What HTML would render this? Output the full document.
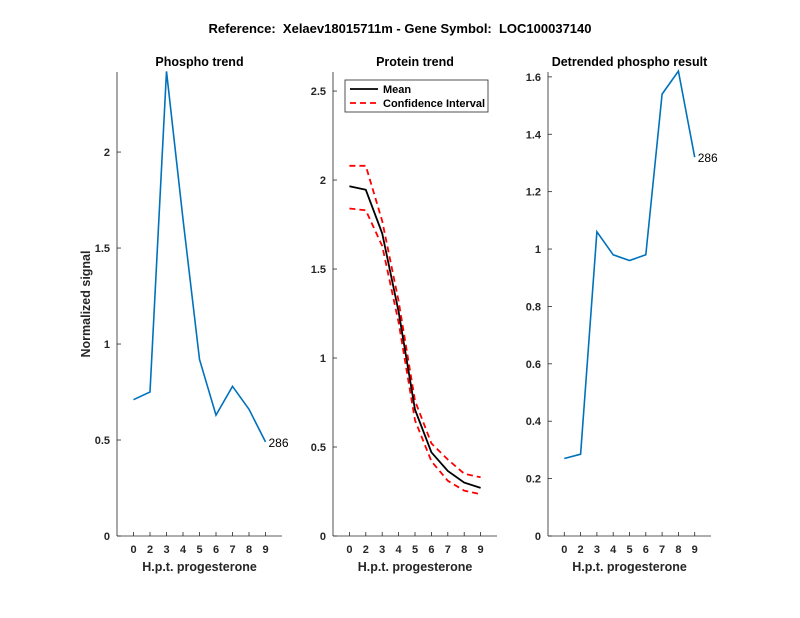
<!DOCTYPE html>
<html><head><meta charset="utf-8"><style>
body{margin:0;background:#fff;}
svg{display:block;font-family:"Liberation Sans",Arial,sans-serif;}
text{white-space:pre;}
</style></head><body>
<svg id="chart" width="800" height="618"></svg>
<script>
const xLabels = ["0","2","3","4","5","6","7","8","9"];
const phospho = [0.71,0.75,2.42,1.65,0.92,0.63,0.78,0.66,0.49];
const proteinMean = [1.965,1.945,1.70,1.26,0.71,0.47,0.365,0.30,0.27];
const proteinUpper = [2.08,2.08,1.77,1.32,0.76,0.52,0.43,0.35,0.33];
const proteinLower = [1.84,1.83,1.63,1.20,0.65,0.42,0.31,0.255,0.235];
const detrended = [0.27,0.285,1.06,0.98,0.96,0.98,1.54,1.62,1.32];
const ticks1 = [0,0.5,1,1.5,2];
const ticks2 = [0,0.5,1,1.5,2,2.5];
const ticks3 = [0,0.2,0.4,0.6,0.8,1,1.2,1.4,1.6];

const NS="http://www.w3.org/2000/svg";
const svg=document.getElementById('chart');
function mk(tag,attrs,parent){const e=document.createElementNS(NS,tag);for(const k in attrs)e.setAttribute(k,attrs[k]);(parent||svg).appendChild(e);return e;}

const title=mk('text',{x:400,y:33,'text-anchor':'middle','font-size':13,'font-weight':'bold',fill:'#000'});
title.textContent='Reference:  Xelaev18015711m - Gene Symbol:  LOC100037140';



function panel(name,x0,x1,ymax,ticks,ttl){
  const top=72,bot=536;
  const g=mk('g',{});
  
  
  const sx=i=>x0+(x1-x0)*(i+1)/10;
  const sy=v=>bot-(bot-top)*v/ymax;
  mk('line',{x1:x0,y1:top,x2:x0,y2:bot,stroke:'#262626','stroke-width':0.8},g);
  mk('line',{x1:x0,y1:bot,x2:x1,y2:bot,stroke:'#262626','stroke-width':0.8},g);
  ticks.forEach(t=>{
    mk('line',{x1:x0,y1:sy(t),x2:x0+4,y2:sy(t),stroke:'#262626','stroke-width':0.8},g);
    const tx=mk('text',{x:x0-7,y:sy(t)+4,'text-anchor':'end','font-size':11,'font-weight':'bold',fill:'#262626'},g);
    tx.textContent=String(t);
    
    
  });
  xLabels.forEach((l,i)=>{
    mk('line',{x1:sx(i),y1:bot,x2:sx(i),y2:bot-4,stroke:'#262626','stroke-width':0.8},g);
    const tx=mk('text',{x:sx(i),y:bot+17,'text-anchor':'middle','font-size':11,'font-weight':'bold',fill:'#262626'},g);
    tx.textContent=l;
    
    
  });
  const t=mk('text',{x:(x0+x1)/2,y:66,'text-anchor':'middle','font-size':12.5,'font-weight':'bold',fill:'#000'},g);
  t.textContent=ttl;
  
  
  const xl=mk('text',{x:(x0+x1)/2,y:571,'text-anchor':'middle','font-size':12.5,'font-weight':'bold',fill:'#262626'},g);
  xl.textContent='H.p.t. progesterone';
  
  
  return {g,sx,sy};
}
function line(p,vals,attrs,name){
  const pts=vals.map((v,i)=>p.sx(i).toFixed(1)+','+p.sy(v).toFixed(1)).join(' ');
  const pl=mk('polyline',Object.assign({points:pts,fill:'none'},attrs),p.g);
  
  
  return pl;
}
const p1=panel('phospho-panel',117,282,2.417,ticks1,'Phospho trend');
line(p1,phospho,{stroke:'#0072bd','stroke-width':1.6},'phospho-line');
const l1=mk('text',{x:p1.sx(8)+3,y:p1.sy(phospho[8])+5,'font-size':12,fill:'#000'},p1.g);
l1.textContent='286';


const yl=mk('text',{x:0,y:0,'text-anchor':'middle','font-size':12.5,'font-weight':'bold',fill:'#262626',transform:'translate(90,304) rotate(-90)'});
yl.textContent='Normalized signal';



const p2=panel('protein-panel',333,497,2.607,ticks2,'Protein trend');
line(p2,proteinUpper,{stroke:'#ff0000','stroke-width':1.8,'stroke-dasharray':'6,4'},'ci-upper-line');
line(p2,proteinLower,{stroke:'#ff0000','stroke-width':1.8,'stroke-dasharray':'6,4'},'ci-lower-line');
line(p2,proteinMean,{stroke:'#000','stroke-width':1.8},'mean-line');
const lg=mk('g',{});


mk('rect',{x:345,y:80,width:143,height:32,fill:'#fff',stroke:'#262626','stroke-width':0.8},lg);
mk('line',{x1:350,y1:89,x2:378,y2:89,stroke:'#000','stroke-width':1.8},lg);
mk('line',{x1:350,y1:103,x2:378,y2:103,stroke:'#ff0000','stroke-width':1.8,'stroke-dasharray':'6,4'},lg);
const le1=mk('text',{x:383,y:93,'font-size':11,'font-weight':'bold',fill:'#000'},lg);le1.textContent='Mean';


const le2=mk('text',{x:383,y:107,'font-size':11,'font-weight':'bold',fill:'#000'},lg);le2.textContent='Confidence Interval';



const p3=panel('detrended-panel',548,711,1.617,ticks3,'Detrended phospho result');
line(p3,detrended,{stroke:'#0072bd','stroke-width':1.6},'detrended-line');
const l3=mk('text',{x:p3.sx(8)+3,y:p3.sy(detrended[8])+5,'font-size':12,fill:'#000'},p3.g);
l3.textContent='286';


</script>
</body></html>
